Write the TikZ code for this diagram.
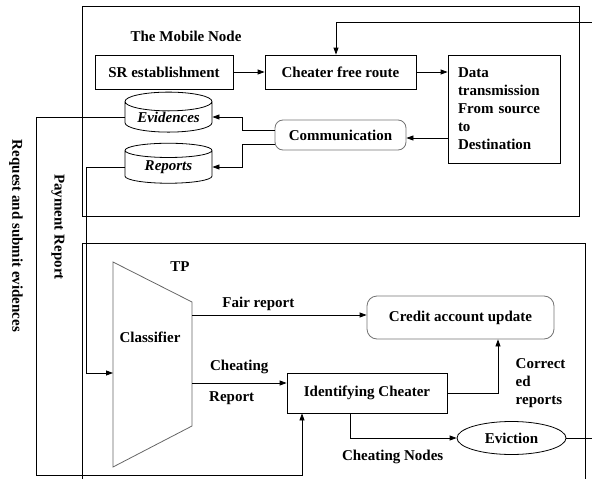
\documentclass[tikz,border=0pt]{standalone}
\usepackage{fontspec}
\setmainfont{Liberation Serif}
\usetikzlibrary{shapes.geometric,arrows.meta}

\begin{document}
\begin{tikzpicture}[x=1pt,y=-1pt,line width=0.8pt,
    font=\fontsize{15}{18}\selectfont\bfseries,
    >={Triangle[length=7pt,width=5pt]},
    box/.style={draw, inner sep=0pt, minimum height=34pt},
    rbox/.style={draw=gray!90!black, rounded corners=8pt, inner sep=0pt},
    store/.style={draw, cylinder, shape border rotate=90, aspect=0.3, inner sep=0pt,
      font=\fontsize{15}{18}\selectfont\bfseries\itshape},
    lbl/.style={inner sep=0pt}]
  \useasboundingbox (0,0) rectangle (592,479);

  % the two frames
  \draw (82,6) rectangle (579,216);
  \draw (82,479) -- (82,243) -- (585,243) -- (585,479);

  % mobile node side
  \node [lbl] (0) at (186,36) {The Mobile Node};
  \node [box, minimum width=138pt] (1) at (164,72) {SR establishment};
  \node [box, minimum width=151pt] (2) at (340.5,72) {Cheater free route};
  \node [box, text width=92pt, inner xsep=10pt, minimum height=108pt, align=left] (3) at (504,109)
    {Data\\transmission\\From source\\to\\Destination};
  \node [rbox, minimum width=131pt, minimum height=30pt] (4) at (340.5,135) {Communication};
  \node [store, minimum width=87pt, minimum height=40pt] (5) at (168.5,117) {Evidences};
  \node [store, minimum width=87pt, minimum height=40pt] (6) at (168.5,167) {Reports};

  \coordinate (in) at (592,22);
  \draw[->] (in) -| ([xshift=-4.5pt]2.north);
  \draw[->] (1) -- (2);
  \draw[->] (2.east) -- (2.east -| 3.west);
  \draw[->] ([yshift=-3pt]3.west |- 4.east) -- ([yshift=-3pt]4.east);
  \draw[->] ([yshift=5pt]4.west) -- ++(-32,0) |- (5.east);
  \draw[->] ([yshift=-9pt]4.west) -- ++(-32,0) |- (6.east);

  % TP side
  \draw[draw=gray!80!black] (113,262) -- (192,302) -- (192,426) -- (113,467) -- cycle;
  \coordinate (c1) at (113,373);
  \coordinate (c2) at (192,315);
  \coordinate (c3) at (192,383);
  \node [lbl] (7) at (150,337) {Classifier};
  \node [lbl] (tp) at (180,267) {TP};
  \node [rbox, rounded corners=10pt, minimum width=187pt, minimum height=43pt] (8) at (460.5,317.5) {Credit account update};
  \node [box, minimum width=160pt, minimum height=40pt] (9) at (367,393) {Identifying Cheater};
  \node [draw, ellipse, minimum width=109pt, minimum height=33pt, inner sep=0pt] (10) at (511.5,438) {Eviction};
  \coordinate (out) at (592,438);

  \draw[->] (c2) -- node[above=1pt, pos=0.38] {Fair report} (c2 -| 8.west);
  \draw[->] (c3) -- node[above=5pt, pos=0.5] {Cheating} node[below=5pt, pos=0.42] {Report} (c3 -| 9.west);
  \draw[->] (9.east) -| node[right=14pt, pos=0.59, align=left] {Correct\\ed\\reports} ([xshift=37.5pt]8.south);
  \draw[->] ([xshift=-17pt]9.south) |- node[below=8pt, pos=0.7] {Cheating Nodes} (10.west);
  \draw (10.east) -- (out);

  % links between the two sides
  \draw[->] (5.west) -- ++(-88,0) |- ([xshift=-65pt,yshift=-62pt]9.south) -- ([xshift=-65pt]9.south);
  \draw[->] (6.west) -- ++(-38,0) |- (c1);
  \node [lbl, rotate=-90] (11) at (16,236) {Request and submit evidences};
  \node [lbl, rotate=-90] (12) at (58,227) {Payment Report};
\end{tikzpicture}
\end{document}
